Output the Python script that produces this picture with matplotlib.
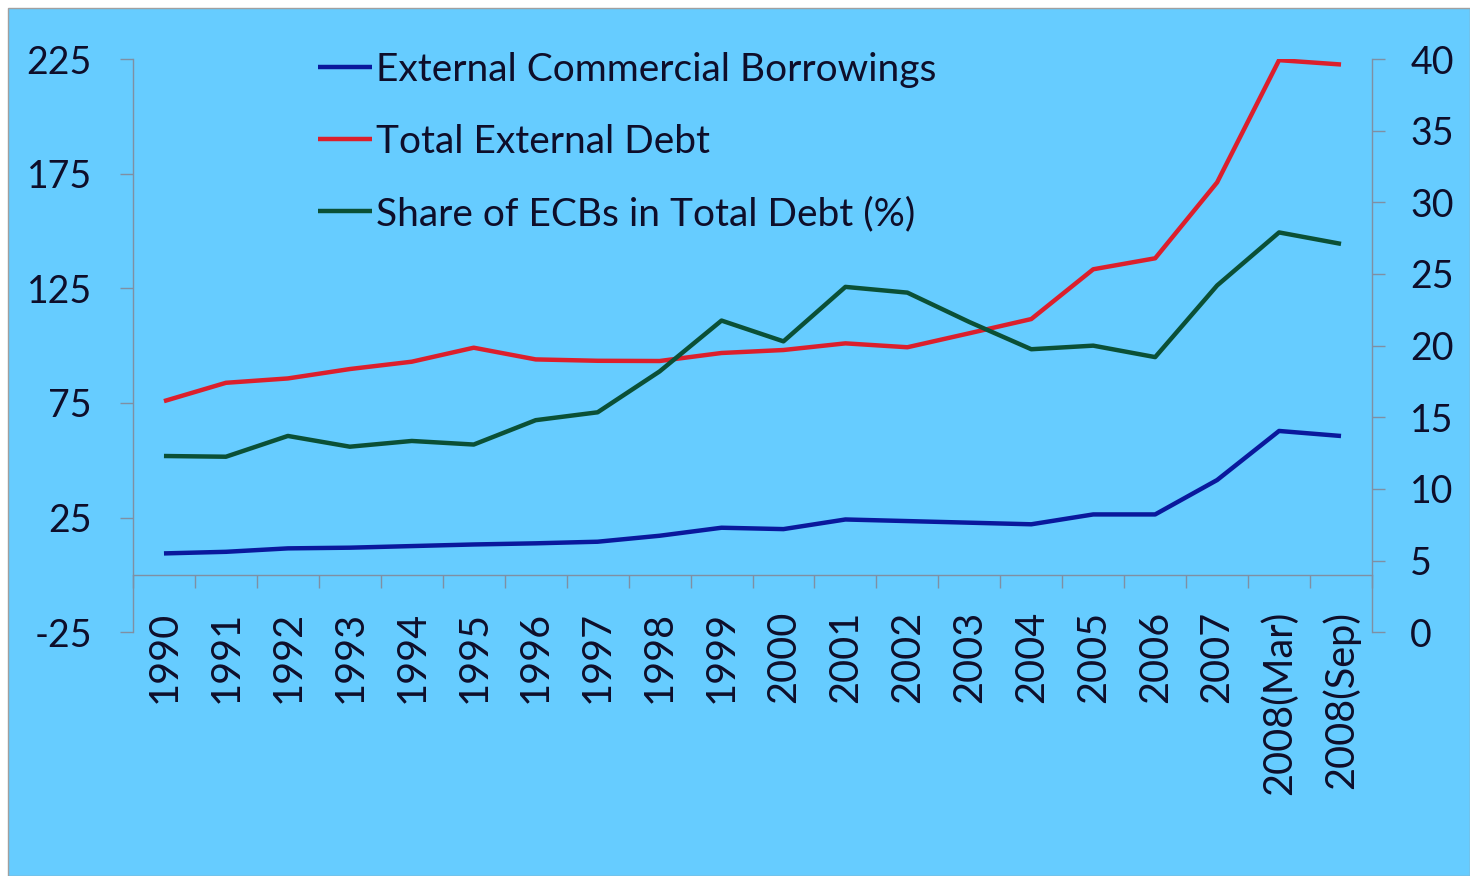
import matplotlib
matplotlib.use("Agg")
import matplotlib.pyplot as plt
from matplotlib.patches import Rectangle
import numpy as np

plt.rcParams['font.family'] = ['Lato', 'DejaVu Sans']
plt.rcParams['axes.unicode_minus'] = False

categories = ["1990", "1991", "1992", "1993", "1994", "1995", "1996", "1997",
              "1998", "1999", "2000", "2001", "2002", "2003", "2004", "2005",
              "2006", "2007", "2008(Mar)", "2008(Sep)"]

ecb = [9.4, 10.1, 11.6, 11.9, 12.6, 13.3, 13.8, 14.5, 17.1, 20.6,
       20.0, 24.2, 23.5, 22.8, 22.1, 26.4, 26.4, 41.4, 62.8, 60.6]

total_debt = [75.8, 83.8, 85.7, 89.8, 93.0, 99.1, 94.0, 93.4, 93.3, 96.8,
              98.1, 101.0, 99.3, 105.4, 111.6, 133.3, 138.1, 171.2, 224.5, 222.6]

ecb_share = [12.3, 12.25, 13.7, 12.95, 13.35, 13.1, 14.8, 15.35, 18.2, 21.75,
             20.3, 24.1, 23.7, 21.65, 19.75, 20.0, 19.2, 24.2, 27.9, 27.1]

left_ticks = [-25, 25, 75, 125, 175, 225]
right_ticks = [0, 5, 10, 15, 20, 25, 30, 35, 40]

BG = '#66CCFF'
TXT = '#0e0e2a'
AXC = '#7f8fa3'
FS_Y = 27
FS_X = 28.5
FS_LEG = 28

W, H = 1470, 876
fig = plt.figure(figsize=(W / 100, H / 100), dpi=100, facecolor='white')
bg = Rectangle((8 / W, 0), 1 - 8 / W, 1 - 8 / H,
               transform=fig.transFigure, facecolor=BG,
               edgecolor='#a0a0a0', linewidth=1.0, zorder=-10)
fig.add_artist(bg)

ax = fig.add_axes([133 / W, 1 - 632.3 / H, (1372 - 133) / W, (632.3 - 59) / H])
ax.set_facecolor('none')
ax2 = ax.twinx()
ax2.set_facecolor('none')

x = np.arange(len(categories))
l1, = ax.plot(x, ecb, color='#0a189c', lw=3.2, solid_capstyle='butt',
              label='External Commercial Borrowings')
l2, = ax.plot(x, total_debt, color='#dc1f2c', lw=3.2, solid_capstyle='butt',
              label='Total External Debt')
l3, = ax2.plot(x, ecb_share, color='#0b5036', lw=3.2, solid_capstyle='butt',
               label='Share of ECBs in Total Debt (%)')

ax.set_xlim(-0.5, len(categories) - 0.5)
ax.set_ylim(-25, 225)
ax2.set_ylim(0, 40)
ax.set_yticks(left_ticks)
ax2.set_yticks(right_ticks)

for a in (ax, ax2):
    a.spines['top'].set_visible(False)
    for s in a.spines.values():
        s.set_color(AXC)
        s.set_linewidth(1.0)
ax.spines['right'].set_visible(False)
ax2.spines['left'].set_visible(False)
ax2.spines['bottom'].set_visible(False)
ax.spines['bottom'].set_position(('data', 0))

# major ticks at category boundaries, labels at category centres
ax.set_xticks(np.arange(-0.5, len(categories) + 0.5, 1.0))
ax.set_xticklabels([])
ax.set_xticks(x, minor=True)
ax.set_xticklabels(categories, minor=True, rotation=90)
ax.tick_params(axis='x', which='major', length=9.5, width=1.0, color=AXC,
               direction='out')
ax.tick_params(axis='x', which='minor', length=0, pad=26, labelsize=FS_X,
               labelcolor=TXT)

ax.tick_params(axis='y', length=9.5, width=1.0, color=AXC, direction='out',
               pad=20, labelsize=FS_Y, labelcolor=TXT)
ax2.tick_params(axis='y', length=9.5, width=1.0, color=AXC, direction='out',
                pad=18, labelsize=FS_Y, labelcolor=TXT)

leg = ax.legend(handles=[l1, l2, l3], loc='upper left',
                bbox_to_anchor=((302.5 - 133) / (1372 - 133), 1.040),
                frameon=False, fontsize=FS_LEG, handlelength=1.39,
                handletextpad=0.1, labelspacing=0.93, borderaxespad=0)
for t in leg.get_texts():
    t.set_color(TXT)

fig.savefig('out.png', dpi=100, facecolor='white')
